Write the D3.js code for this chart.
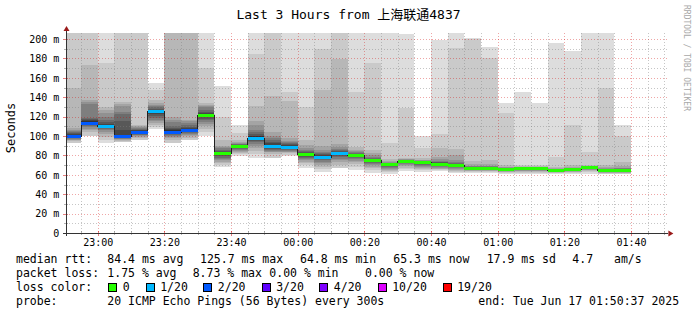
<!DOCTYPE html>
<html>
<head>
<meta charset="utf-8">
<script src="https://cdn.jsdelivr.net/npm/d3@7"></script>
<style>
  body { margin: 0; background: #fff; }
  svg { display: block; }
  text { font-family: "DejaVu Sans Mono", monospace; fill: #000; }
</style>
</head>
<body>
<div id="chart"></div>
<script>
const title = "Last 3 Hours from 上海联通4837"
const rangeStart = "2025-06-16 22:50:37"
const rangeEnd = "2025-06-17 01:50:37"

// end time of each 5 minute step
const stepEnds = [
  "2025-06-16 22:55", "2025-06-16 23:00", "2025-06-16 23:05", "2025-06-16 23:10", "2025-06-16 23:15",
  "2025-06-16 23:20", "2025-06-16 23:25", "2025-06-16 23:30", "2025-06-16 23:35", "2025-06-16 23:40",
  "2025-06-16 23:45", "2025-06-16 23:50", "2025-06-16 23:55", "2025-06-17 00:00", "2025-06-17 00:05",
  "2025-06-17 00:10", "2025-06-17 00:15", "2025-06-17 00:20", "2025-06-17 00:25", "2025-06-17 00:30",
  "2025-06-17 00:35", "2025-06-17 00:40", "2025-06-17 00:45", "2025-06-17 00:50", "2025-06-17 00:55",
  "2025-06-17 01:00", "2025-06-17 01:05", "2025-06-17 01:10", "2025-06-17 01:15", "2025-06-17 01:20",
  "2025-06-17 01:25", "2025-06-17 01:30", "2025-06-17 01:35", "2025-06-17 01:40"
]

// median rtt (ms)
const medians = [
  100.0, 113.7, 110.0, 99.7, 103.8, 125.7, 104.5, 105.8, 122.0, 82.1,
  89.7, 98.3, 90.0, 89.0, 81.1, 78.7, 82.8, 80.7, 75.6, 70.8,
  74.6, 73.2, 71.5, 70.4, 67.3, 67.3, 66.3, 66.6, 66.6, 65.0,
  66.3, 67.7, 64.8, 65.3
]

// lost pings out of 20
const lossCount = [
  2, 2, 1, 2, 2, 1, 2, 2, 0, 0,
  0, 1, 1, 1, 0, 1, 1, 0, 0, 0,
  0, 0, 0, 0, 0, 0, 0, 0, 0, 0,
  0, 0, 0, 0
]

// sorted ping times (ms) per step, null = unknown
const pings = [
  [null, 93, 94.5, 95.5, 96, 97, 98, 98.5, 99, 99.5, 101, 102, 103, 104, 105, 106, 108, 149, 230, null],
  [null, 100, 104, 106, 107, 109, 110, 111, 112, 113, 115, 116.5, 118, 119, 133, 135, 137, 173, 230, null],
  [93, 96, 99, 102, 104, 106, 107, 108, 109, 109.5, 111, 112.5, 114, 117, 120, 124, 127, 130, 175.6, 230],
  [null, 94, 95, 96, 96.5, 97, 97.5, 98, 98.5, 99, 101, 106, 115, 123, 125, 131, 133, 135.5, 230, null],
  [null, 96, 98, 99, 100, 101, 101.5, 102, 102.5, 103, 105, 106, 106.5, 107, 108, 109, 110, 111.3, 230, null],
  [107, 109, 111, 113, 115, 117, 119, 121, 123, 124, 126.5, 127, 128, 130, 131, 132, 134, 137, 147.5, 155],
  [null, 93, 96, 98, 99, 100, 101, 102, 103, 104, 106, 107, 108.5, 110, 114, 117, 119.3, 230, 240, null],
  [null, 95.5, 98, 100, 101, 102, 103, 104, 104.5, 105, 107, 108, 109.5, 111, 113, 115, 117, 230, 240, null],
  [100, 104, 107, 110, 112, 114, 116, 118, 120, 121, 123, 124, 125, 127, 129.5, 130.5, 132, 134.4, 170.4, 230],
  [68.4, 70, 72, 73.5, 75, 76, 77.5, 79, 80, 81, 83, 84, 85, 86, 87.5, 89, 90, 96, 119.3, 151.5],
  [79, 81, 82.5, 84, 85, 86, 87, 88, 88.5, 89, 90, 90.5, 91, 91.5, 92, 93, 94, 96, 102.7, 111.3],
  [77, 81, 85, 88, 90, 92, 93.5, 95, 96, 97.5, 99.5, 100.5, 102, 104, 106, 111, 115.5, 131, 185, 230],
  [null, 77, 81, 83, 84, 85, 86, 87, 88, 89, 91, 92.5, 94, 96, 97.5, 100, 104.5, 141.2, 230, null],
  [79, 80.5, 82, 83, 84, 85, 86, 87, 88, 88.5, 89.5, 90.5, 91.5, 92.5, 93.5, 95, 97.5, 136.6, 145.7, 230],
  [67, 70, 72, 73.5, 75, 76, 77.5, 78.5, 79.5, 80.5, 81.8, 82.5, 83.5, 84.5, 86, 88, 91, 96, 129.6, 230],
  [63, 66, 68, 70, 72, 73.5, 75, 76, 77, 78, 79.5, 80.5, 81.5, 82.5, 84, 86, 90, 147.4, 189.4, 230],
  [null, 66.5, 70, 73, 75, 76.5, 78, 79.5, 80.5, 81.5, 83.2, 83.8, 84.5, 85.5, 87, 89, 92, 179, 230, null],
  [65, 68, 71, 73, 74.5, 76, 77.5, 78.5, 79.5, 80.2, 80.9, 81.3, 81.8, 82.5, 83.5, 84.5, 86, 89, 145.7, 230],
  [62, 64.5, 67, 68.5, 70, 71, 72.5, 73.5, 74.5, 75.2, 75.9, 76.3, 76.8, 77.5, 78.5, 80, 82, 85.6, 175, 230],
  [61, 62.5, 64, 65, 66, 67, 68, 69, 70, 70.5, 71, 71.3, 71.6, 72, 72.5, 73, 74, 76, 92.4, 230],
  [64, 66, 67.5, 69, 70, 71, 72, 73, 73.8, 74.3, 74.8, 74.9, 75, 75.2, 75.5, 75.8, 76.2, 77, 128.5, 205],
  [63, 64.5, 66, 67.5, 68.5, 69.5, 70.5, 71.5, 72.2, 72.8, 73.3, 73.5, 73.7, 74, 74.3, 74.8, 75.5, 77, 87.5, 100],
  [64, 64.5, 65.5, 66, 67, 68, 69, 70, 70.7, 71.2, 71.8, 72.2, 72.8, 73.5, 74.5, 76, 78, 88, 102, 199],
  [62, 63, 64, 65, 66, 67, 68, 68.7, 69.5, 70.1, 70.6, 70.9, 71.3, 72, 73, 75, 80, 86.3, 190.4, 230],
  [62, 63, 63.5, 64, 64.5, 65, 65.5, 66, 66.5, 67, 67.5, 67.7, 68, 68.3, 68.8, 69.5, 71, 74, 200, 201],
  [62, 63, 63.5, 64, 64.5, 65, 65.5, 66, 66.5, 67, 67.5, 67.7, 68, 68.3, 68.8, 69.5, 71, 75, 180, 192],
  [61, 62, 62.8, 63.3, 63.8, 64.3, 64.8, 65.2, 65.6, 66, 66.5, 66.6, 66.8, 67, 67.3, 67.8, 68.5, 70, 124, 134],
  [61, 62, 63, 63.7, 64.2, 64.7, 65.2, 65.6, 66, 66.3, 66.7, 66.8, 66.9, 67.1, 67.4, 67.8, 68.5, 69, 70.3, 145.7],
  [61, 62, 63, 63.7, 64.2, 64.7, 65.2, 65.6, 66, 66.3, 66.7, 66.8, 66.9, 67.1, 67.4, 67.8, 68.5, 69, 70, 134],
  [61, 61.5, 62, 62.4, 62.8, 63.2, 63.6, 64, 64.4, 64.8, 65.1, 65.2, 65.3, 65.5, 65.8, 66.2, 66.8, 68, 78, 196],
  [61, 62, 62.8, 63.3, 63.8, 64.3, 64.8, 65.2, 65.6, 66, 66.4, 66.5, 66.6, 66.8, 67, 67.5, 68.5, 70, 111.3, 188],
  [61, 62.5, 63.5, 64.5, 65, 65.5, 66, 66.5, 67, 67.4, 67.8, 67.85, 67.9, 68, 68.2, 68.5, 69, 70, 83.8, 230],
  [61, 61.3, 61.8, 62.2, 62.6, 63, 63.4, 63.8, 64.2, 64.6, 64.9, 65.1, 65.4, 65.7, 66.2, 67, 68, 70, 149, 230],
  [61, 61.3, 61.8, 62.3, 62.8, 63.3, 63.8, 64.2, 64.6, 65, 65.4, 65.5, 65.7, 66, 66.5, 67.5, 69, 73.5, 100, 111.3]
]

const yTicks = [0, 20, 40, 60, 80, 100, 120, 140, 160, 180, 200]
const yMinor = [10, 30, 50, 70, 90, 110, 130, 150, 170, 190]

const lossLevels = [0, 1, 2, 3, 4, 10, 19]
const lossLabels = ["0", "1/20", "2/20", "3/20", "4/20", "10/20", "19/20"]
const lossColors = ["#26ff00", "#00b8ff", "#0059ff", "#5e00ff", "#7e00ff", "#dd00ff", "#ff0000"]

const rttStats = ["84.4 ms avg", "125.7 ms max", "64.8 ms min", "65.3 ms now", "17.9 ms sd", "4.7", "am/s"]
const lossStats = ["1.75 % avg", "8.73 % max", "0.00 % min", "0.00 % now"]
const probeText = "20 ICMP Echo Pings (56 Bytes) every 300s"
const endText = "end: Tue Jun 17 01:50:37 2025"

const width = 697, height = 315
const plot = { left: 66.4, right: 666.4, top: 33, bottom: 233 }
const parseFull = d3.timeParse("%Y-%m-%d %H:%M:%S")
const parseStep = d3.timeParse("%Y-%m-%d %H:%M")
const t0 = parseFull(rangeStart), t1 = parseFull(rangeEnd)
const stepMs = 5 * 60 * 1000

const x = d3.scaleTime().domain([t0, t1]).range([plot.left, plot.right])
const y = d3.scaleLinear().domain([0, 206.2]).range([plot.bottom, plot.top])
const yMax = y.domain()[1]

const cols = stepEnds.map((s, i) => {
  const end = parseStep(s)
  return {
    start: new Date(Math.max(+end - stepMs, +t0)),
    end,
    median: medians[i],
    loss: lossCount[i],
    pings: pings[i]
  }
})

function lossColor(n) {
  let c = lossColors[0]
  lossLevels.forEach((l, i) => { if (n >= l) c = lossColors[i] })
  return c
}

const svg = d3.select("#chart").append("svg")
  .attr("width", width)
  .attr("height", height)

svg.append("rect").attr("width", width).attr("height", height).attr("fill", "#fff")

svg.append("defs").append("clipPath").attr("id", "clip")
  .append("rect")
  .attr("x", plot.left).attr("y", plot.top)
  .attr("width", plot.right - plot.left).attr("height", plot.bottom - plot.top)

// title
svg.append("text")
  .attr("x", width / 2).attr("y", 19)
  .attr("text-anchor", "middle")
  .style("font-size", "13px")
  .style("font-family", "'DejaVu Sans Mono', 'Noto Sans CJK SC', monospace")
  .text(title)

// smoke: 10 layers, outermost lightest
const smoke = svg.append("g").attr("clip-path", "url(#clip)").attr("shape-rendering", "crispEdges")
cols.forEach(c => {
  for (let ibot = 0; ibot < 10; ibot++) {
    const itop = 19 - ibot
    const lo = c.pings[ibot], hi = c.pings[itop]
    if (lo == null || hi == null) continue
    const gray = Math.floor(190 / 10 * (10 - (ibot + 1))) + 50
    const yt = y(Math.min(hi, yMax)), yb = y(Math.min(lo, yMax))
    smoke.append("rect")
      .attr("x", x(c.start))
      .attr("width", x(c.end) - x(c.start))
      .attr("y", yt)
      .attr("height", Math.max(0, yb - yt))
      .attr("fill", d3.rgb(gray, gray, gray))
  }
})

// grid
const grid = svg.append("g").attr("shape-rendering", "crispEdges")
const minorTimes = d3.timeMinute.every(5).range(t0, t1)
const majorTimes = d3.timeMinute.every(20).range(t0, t1)
const isMajor = t => t.getMinutes() % 20 === 0

minorTimes.filter(t => !isMajor(t)).forEach(t => {
  grid.append("line")
    .attr("x1", Math.round(x(t)) + 0.5).attr("x2", Math.round(x(t)) + 0.5)
    .attr("y1", plot.top).attr("y2", plot.bottom)
    .attr("stroke", "rgba(128,128,128,0.45)").attr("stroke-dasharray", "1,2")
})
yMinor.forEach(v => {
  grid.append("line")
    .attr("x1", plot.left).attr("x2", plot.right + 2)
    .attr("y1", Math.round(y(v)) + 0.5).attr("y2", Math.round(y(v)) + 0.5)
    .attr("stroke", "rgba(128,128,128,0.45)").attr("stroke-dasharray", "1,2")
})
majorTimes.forEach(t => {
  grid.append("line")
    .attr("x1", Math.round(x(t)) + 0.5).attr("x2", Math.round(x(t)) + 0.5)
    .attr("y1", plot.top).attr("y2", plot.bottom)
    .attr("stroke", "rgba(210,0,0,0.35)").attr("stroke-dasharray", "1,2")
})
yTicks.filter(v => v > 0).forEach(v => {
  grid.append("line")
    .attr("x1", plot.left).attr("x2", plot.right + 2)
    .attr("y1", Math.round(y(v)) + 0.5).attr("y2", Math.round(y(v)) + 0.5)
    .attr("stroke", "rgba(210,0,0,0.35)").attr("stroke-dasharray", "1,2")
})

// median line and loss coloured band
const medLine = d3.line()
svg.append("path")
  .attr("d", medLine(cols.flatMap(c => [[x(c.start), Math.round(y(c.median)) + 0.5], [x(c.end), Math.round(y(c.median)) + 0.5]])))
  .attr("fill", "none")
  .attr("stroke", "#202020")
  .attr("stroke-width", 1)
  .attr("shape-rendering", "crispEdges")

svg.append("g").attr("shape-rendering", "crispEdges")
  .selectAll("rect")
  .data(cols)
  .join("rect")
  .attr("x", d => x(d.start))
  .attr("width", d => x(d.end) - x(d.start))
  .attr("y", d => Math.round(y(d.median)) - 1)
  .attr("height", 3)
  .attr("fill", d => lossColor(d.loss))

// axes
const xAxis = g => g
  .attr("transform", `translate(0,${plot.bottom})`)
  .call(d3.axisBottom(x).ticks(d3.timeMinute.every(20)).tickFormat(d3.timeFormat("%H:%M")).tickSize(0).tickPadding(6))
  .call(g => g.select(".domain").remove())
  .call(g => g.selectAll("text").style("font-size", "10px").style("font-family", "'DejaVu Sans Mono', monospace").attr("fill", "#000"))

const yAxis = g => g
  .attr("transform", `translate(${plot.left},0)`)
  .call(d3.axisLeft(y).tickValues(yTicks).tickFormat(d => d === 0 ? "0" : `${d} m`).tickSize(0).tickPadding(7))
  .call(g => g.select(".domain").remove())
  .call(g => g.selectAll("text").style("font-size", "10px").style("font-family", "'DejaVu Sans Mono', monospace").attr("fill", "#000"))

svg.append("g").call(xAxis)
svg.append("g").call(yAxis)

const axes = svg.append("g").attr("shape-rendering", "crispEdges")
// small tick marks
minorTimes.forEach(t => {
  const xx = Math.round(x(t)) + 0.5
  axes.append("line")
    .attr("x1", xx).attr("x2", xx)
    .attr("y1", plot.bottom - 2).attr("y2", plot.bottom + (isMajor(t) ? 3 : 2))
    .attr("stroke", isMajor(t) ? "rgba(210,0,0,0.5)" : "rgba(128,128,128,0.6)")
})
yTicks.concat(yMinor).forEach(v => {
  const yy = Math.round(y(v)) + 0.5
  axes.append("line")
    .attr("x1", plot.left - (v % 20 === 0 ? 3 : 2)).attr("x2", plot.left + 2)
    .attr("y1", yy).attr("y2", yy)
    .attr("stroke", v % 20 === 0 ? "rgba(210,0,0,0.5)" : "rgba(128,128,128,0.6)")
})

axes.append("line")
  .attr("x1", 66.5).attr("x2", 66.5)
  .attr("y1", plot.bottom + 3).attr("y2", plot.top - 3)
  .attr("stroke", "#333")
axes.append("line")
  .attr("x1", plot.left - 3).attr("x2", plot.right + 2)
  .attr("y1", plot.bottom + 0.5).attr("y2", plot.bottom + 0.5)
  .attr("stroke", "#333")

svg.append("path")
  .attr("d", "M63.5,31 L69.5,31 L66.5,26 Z")
  .attr("fill", "#9a1a1a")
svg.append("path")
  .attr("d", `M${plot.right + 2},230.5 L${plot.right + 2},236.5 L${plot.right + 7},233.5 Z`)
  .attr("fill", "#9a1a1a")

// y label
svg.append("text")
  .attr("transform", "translate(15,128) rotate(-90)")
  .attr("text-anchor", "middle")
  .style("font-size", "12px")
  .text("Seconds")

// watermark
svg.append("text")
  .attr("transform", "translate(684,5) rotate(90)")
  .style("font-size", "8px")
  .style("fill", "#a8a8a8")
  .text("RRDTOOL / TOBI OETIKER")

// legend
const legend = svg.append("g").style("font-size", "11.5px").attr("xml:space", "preserve")
const rowY = [263.3, 277.3, 291.3, 305.3]

legend.append("text").attr("x", 16).attr("y", rowY[0]).text("median rtt:")
const rttX = [107.3, 200, 300, 393.3, 486.7, 572.3, 614]
rttStats.forEach((s, i) => legend.append("text").attr("x", rttX[i]).attr("y", rowY[0]).text(s))

legend.append("text").attr("x", 16).attr("y", rowY[1]).text("packet loss:")
const lossX = [107.3, 192.7, 269.3, 365]
lossStats.forEach((s, i) => legend.append("text").attr("x", lossX[i]).attr("y", rowY[1]).text(s))

legend.append("text").attr("x", 16).attr("y", rowY[2]).text("loss color:")
const boxX = [108.3, 145.7, 203.3, 261.7, 319.3, 377.7, 442.7]
lossLabels.forEach((s, i) => {
  legend.append("rect")
    .attr("x", Math.round(boxX[i]) + 0.5).attr("y", 283.5)
    .attr("width", 8).attr("height", 8)
    .attr("fill", lossColors[i])
    .attr("stroke", "#000").attr("stroke-width", 1)
    .attr("shape-rendering", "crispEdges")
  legend.append("text").attr("x", boxX[i] + 14.5).attr("y", rowY[2]).text(s)
})

legend.append("text").attr("x", 16).attr("y", rowY[3]).text("probe:")
legend.append("text").attr("x", 107.3).attr("y", rowY[3]).text(probeText)
legend.append("text").attr("x", 478.3).attr("y", rowY[3]).text(endText)
</script>
</body>
</html>
